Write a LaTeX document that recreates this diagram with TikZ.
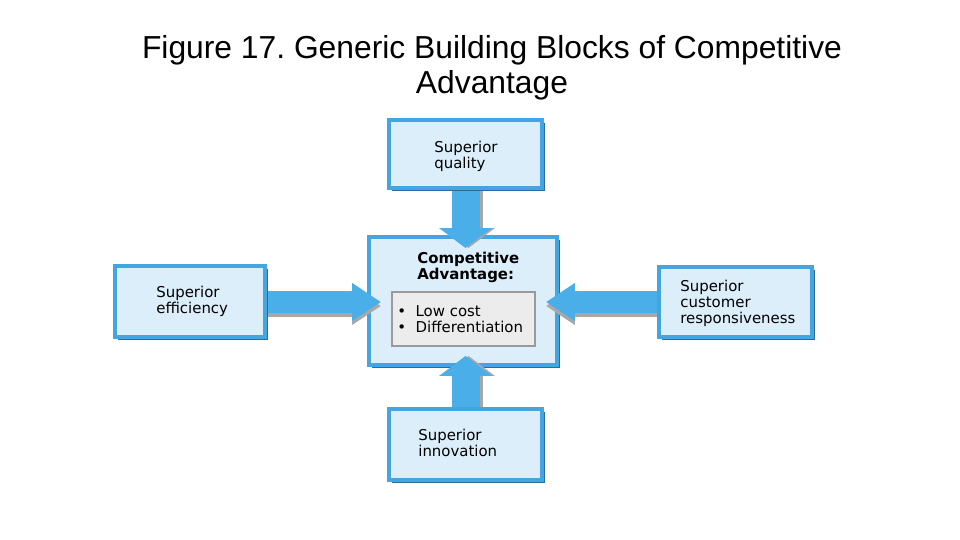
\documentclass[tikz,border=0pt]{standalone}
\usepackage{fontspec}
\setmainfont{Liberation Sans}
\newfontfamily\boxfont{DejaVu Sans}
\usetikzlibrary{arrows.meta,shadows}
\definecolor{boxfill}{HTML}{DCEEFA}
\definecolor{boxline}{HTML}{45A5E0}
\definecolor{boxdark}{HTML}{2A6D9C}
\definecolor{arrfill}{HTML}{4AAEE8}
\definecolor{arrshadow}{HTML}{A8A8A8}
\definecolor{greyfill}{HTML}{ECECEC}
\definecolor{greyline}{HTML}{9A9A9A}
\frenchspacing
\begin{document}
\begin{tikzpicture}[x=0.02cm,y=-0.02cm,
  blk/.style={draw=boxline, line width=0.08cm, fill=boxfill, inner sep=0pt,
    drop shadow={shadow xshift=0.06cm, shadow yshift=-0.06cm, fill=boxdark, opacity=1}},
  greybox/.style={draw=greyline, line width=0.03cm, fill=greyfill, inner sep=0pt,
    drop shadow={shadow xshift=0.03cm, shadow yshift=-0.03cm, fill=greyline!80!black, opacity=1}},
  lbl/.style={font=\boxfont\fontsize{8.5}{9.2}\selectfont, align=left, anchor=base west, inner sep=0pt, text=black},
  vshaft/.style={line width=0.56cm, -{Triangle[width=1.04cm,length=0.4cm]}},
  hshaft/.style={line width=0.44cm, -{Triangle[width=0.72cm,length=0.58cm]}},
  ttl/.style={font=\fontsize{18.1}{20.2}\selectfont, align=center, inner sep=0pt}
]
\useasboundingbox (0,0) rectangle (960,540);
\fill[white] (0,0) rectangle (960,540);

\node[ttl] (title) at (492,68) {Figure 17. Generic Building Blocks of Competitive\\Advantage};

% centre box
\node[blk, minimum width=3.76cm, minimum height=2.56cm] (c) at (463,301) {};
\node[greybox, minimum width=2.86cm, minimum height=1.08cm] (g) at (463.5,319) {};
\node[lbl, font=\boxfont\bfseries\fontsize{8.5}{9.2}\selectfont] (ct) at (417,280) {Competitive\\Advantage:};
\node[lbl] (gt) at (397,333) {\textbullet\ \ Low cost\\\textbullet\ \ Differentiation};

% arrow start points (box edges)
\coordinate (qb) at (465.5,190);
\coordinate (eb) at (267,302);
\coordinate (rb) at (657,302);
\coordinate (ib) at (465.5,407);
% arrow tips
\coordinate (qt0) at ([yshift=-0.26cm]qb |- c.north);
\coordinate (et0) at ([xshift=0.28cm]c.west |- eb);
\coordinate (rt0) at ([xshift=-0.26cm]c.east |- rb);
\coordinate (it0) at ([yshift=0.22cm]ib |- c.south);

% arrows (shadows first)
\draw[vshaft, arrshadow] ([shift={(3,0)}]qb) -- ([shift={(3,0)}]qt0);
\draw[vshaft, arrfill] (qb) -- (qt0);
\draw[hshaft, arrshadow] ([shift={(0,4)}]eb) -- ([shift={(0,4)}]et0);
\draw[hshaft, arrfill] (eb) -- (et0);
\draw[hshaft, arrshadow] ([shift={(0,4)}]rb) -- ([shift={(0,4)}]rt0);
\draw[hshaft, arrfill] (rb) -- (rt0);
\draw[vshaft, arrshadow] ([shift={(3,0)}]ib) -- ([shift={(3,0)}]it0);
\draw[vshaft, arrfill] (ib) -- (it0);

% outer boxes
\node[blk, minimum width=3.06cm, minimum height=1.36cm] (q) at (465.5,154) {};
\node[lbl] (qt) at (434,169) {Superior\\quality};
\node[blk, minimum width=3.0cm, minimum height=1.42cm] (e) at (190,301.5) {};
\node[lbl] (et) at (156,314) {Superior\\efficiency};
\node[blk, minimum width=3.06cm, minimum height=1.4cm] (r) at (735.5,302) {};
\node[lbl] (rt) at (680,324) {Superior\\customer\\responsiveness};
\node[blk, minimum width=3.06cm, minimum height=1.42cm] (i) at (465.5,444.5) {};
\node[lbl] (it) at (418,457) {Superior\\innovation};
\end{tikzpicture}
\end{document}
